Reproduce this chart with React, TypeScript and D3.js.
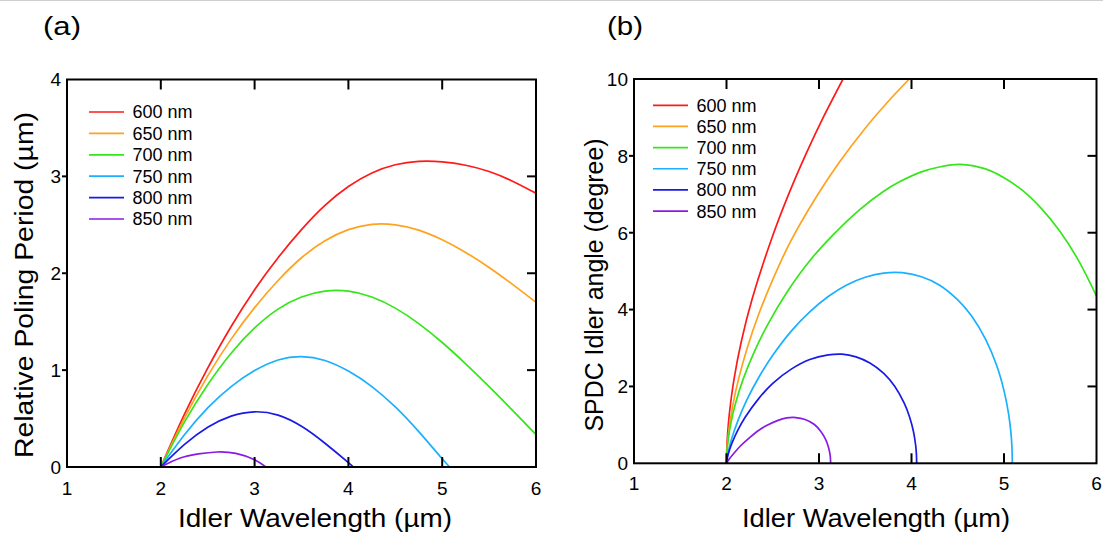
import React from "react";
import * as d3 from "d3";

// Pump wavelengths shown in both legends
const pumpLabels = ["600 nm", "650 nm", "700 nm", "750 nm", "800 nm", "850 nm"];
const lineColors = ["#ff1a1a", "#ffa31f", "#36e61a", "#1ab0ff", "#1a1ae6", "#8a1ae6"];

// (a) Relative poling period (µm) vs idler wavelength (µm)
const poling600: [number, number][] = [
  [2, 0], [2.25, 0.54], [2.5, 1.02], [2.75, 1.45], [3, 1.83], [3.25, 2.16], [3.5, 2.45],
  [3.75, 2.7], [4, 2.895], [4.25, 3.035], [4.5, 3.12], [4.75, 3.155], [5, 3.15], [5.25, 3.115],
  [5.5, 3.05], [5.75, 2.95], [6, 2.825],
];
const poling650: [number, number][] = [
  [2, 0], [2.25, 0.5], [2.5, 0.94], [2.75, 1.32], [3, 1.645], [3.25, 1.925], [3.5, 2.16],
  [3.75, 2.335], [4, 2.45], [4.25, 2.505], [4.5, 2.5], [4.75, 2.445], [5, 2.345], [5.25, 2.215],
  [5.5, 2.06], [5.75, 1.885], [6, 1.7],
];
const poling700: [number, number][] = [
  [2, 0], [2.25, 0.46], [2.5, 0.85], [2.75, 1.175], [3, 1.435], [3.25, 1.63], [3.5, 1.755],
  [3.75, 1.815], [4, 1.815], [4.25, 1.755], [4.5, 1.64], [4.75, 1.48], [5, 1.285],
  [5.25, 1.065], [5.5, 0.83], [5.75, 0.585], [6, 0.335],
];
const poling750: [number, number][] = [
  [2, 0], [2.25, 0.33], [2.5, 0.61], [2.75, 0.83], [3, 0.995], [3.25, 1.105], [3.5, 1.14],
  [3.75, 1.1], [4, 0.99], [4.25, 0.83], [4.5, 0.62], [4.75, 0.365], [5, 0.085], [5.08, 0],
];
const poling800: [number, number][] = [
  [2, 0], [2.25, 0.23], [2.5, 0.41], [2.75, 0.525], [3, 0.57], [3.25, 0.535], [3.5, 0.42],
  [3.75, 0.245], [4, 0.045], [4.05, 0],
];
const poling850: [number, number][] = [
  [2, 0], [2.2, 0.09], [2.4, 0.135], [2.6, 0.155], [2.8, 0.14], [3, 0.075], [3.12, 0],
];

// (b) SPDC idler emission angle (degree) vs idler wavelength (µm)
const angle600: [number, number][] = [
  [2, 0], [2.003, 0.36], [2.012, 0.77], [2.03, 1.27], [2.08, 2.17], [2.16, 3.17], [2.28, 4.3],
  [2.489, 5.85], [2.67, 6.99], [2.867, 8.09], [3.05, 9.02], [3.26, 10],
];
const angle650: [number, number][] = [
  [2, 0], [2.003, 0.25], [2.012, 0.55], [2.035, 1.02], [2.075, 1.59], [2.128, 2.17],
  [2.22, 2.97], [2.35, 3.89], [2.5, 4.78], [2.686, 5.74], [2.95, 6.85], [3.21, 7.8],
  [3.5, 8.72], [3.75, 9.42], [3.976, 10],
];
const angle700: [number, number][] = [
  [2, 0], [2.005, 0.3], [2.02, 0.65], [2.05, 1.08], [2.1, 1.58], [2.18, 2.19], [2.3, 2.9],
  [2.45, 3.63], [2.65, 4.44], [2.9, 5.27], [3.155, 5.95], [3.45, 6.62], [3.7, 7.08],
  [3.876, 7.33], [4.092, 7.57], [4.3, 7.71], [4.524, 7.78], [4.8, 7.66], [5, 7.43],
  [5.2, 7.1], [5.4, 6.64], [5.6, 6.05], [5.8, 5.3], [6, 4.35],
];
const angle750: [number, number][] = [
  [2, 0], [2.005, 0.11], [2.02, 0.31], [2.06, 0.67], [2.13, 1.15], [2.22, 1.65], [2.35, 2.24],
  [2.5, 2.81], [2.7, 3.44], [2.9, 3.94], [3.1, 4.34], [3.3, 4.64], [3.5, 4.84], [3.7, 4.95],
  [3.9, 4.96], [4.1, 4.86], [4.3, 4.64], [4.5, 4.25], [4.65, 3.83], [4.8, 3.23], [4.92, 2.55],
  [5, 1.89], [5.05, 1.28], [5.075, 0.79], [5.086, 0.41], [5.09, 0],
];
const angle800: [number, number][] = [
  [2, 0], [2.005, 0.09], [2.02, 0.25], [2.06, 0.53], [2.12, 0.85], [2.2, 1.19], [2.35, 1.69],
  [2.5, 2.08], [2.7, 2.45], [2.9, 2.7], [3.1, 2.82], [3.25, 2.84], [3.4, 2.77], [3.55, 2.61],
  [3.7, 2.34], [3.82, 2.0], [3.92, 1.57], [3.98, 1.2], [4.02, 0.84], [4.045, 0.47],
  [4.053, 0.24], [4.056, 0],
];
const angle850: [number, number][] = [
  [2, 0], [2.03, 0.11], [2.08, 0.26], [2.15, 0.45], [2.25, 0.67], [2.35, 0.86], [2.45, 1.0],
  [2.55, 1.11], [2.65, 1.18], [2.75, 1.19], [2.85, 1.14], [2.95, 1.01], [3.02, 0.83],
  [3.07, 0.63], [3.1, 0.44], [3.115, 0.29], [3.122, 0.18], [3.126, 0],
];

const polingSeries = [poling600, poling650, poling700, poling750, poling800, poling850];
const angleSeries = [angle600, angle650, angle700, angle750, angle800, angle850];

const xTicks = [1, 2, 3, 4, 5, 6];
const polingTicks = [0, 1, 2, 3, 4];
const angleTicks = [0, 2, 4, 6, 8, 10];

const FONT = "'Liberation Sans', Arial, Helvetica, sans-serif";

type PanelProps = {
  id: string;
  x0: number;
  x1: number;
  yBottom: number;
  yTop: number;
  yMax: number;
  yTicks: number[];
  series: [number, number][][];
  curve: d3.CurveFactory;
  letter: string;
  letterX: number;
  letterLen: number;
  yTitle: string;
  yTitleX: number;
  yTitleLen: number;
  xTitleX: number;
  xTitleLen: number;
  xTickBaseline: number;
  legendX: number;
  legendY: number;
  legendStep: number;
};

function Panel(p: PanelProps) {
  const x = d3.scaleLinear().domain([1, 6]).range([p.x0, p.x1]);
  const y = d3.scaleLinear().domain([0, p.yMax]).range([p.yBottom, p.yTop]);
  const line = d3
    .line<[number, number]>()
    .x((d) => x(d[0]))
    .y((d) => y(d[1]))
    .curve(p.curve);
  const innerX = xTicks.slice(1, -1);
  const innerY = p.yTicks.slice(1, -1);
  return (
    <g>
      <defs>
        <clipPath id={p.id}>
          <rect x={p.x0} y={p.yTop} width={p.x1 - p.x0} height={p.yBottom - p.yTop} />
        </clipPath>
      </defs>
      <g clipPath={`url(#${p.id})`}>
        {p.series.map((s, i) => (
          <path key={i} d={line(s) ?? ""} fill="none" stroke={lineColors[i]} strokeWidth={1.7} />
        ))}
      </g>
      <rect
        x={p.x0}
        y={p.yTop}
        width={p.x1 - p.x0}
        height={p.yBottom - p.yTop}
        fill="none"
        stroke="#000"
        strokeWidth={2}
      />
      {innerX.map((t) => (
        <g key={`xt${t}`} stroke="#000" strokeWidth={2}>
          <line x1={x(t)} x2={x(t)} y1={p.yBottom} y2={p.yBottom - 10} />
          <line x1={x(t)} x2={x(t)} y1={p.yTop} y2={p.yTop + 10} />
        </g>
      ))}
      {innerY.map((t) => (
        <g key={`yt${t}`} stroke="#000" strokeWidth={2}>
          <line x1={p.x0 - 5} x2={p.x0} y1={y(t)} y2={y(t)} />
          <line x1={p.x1} x2={p.x1 - 9} y1={y(t)} y2={y(t)} />
        </g>
      ))}
      {xTicks.map((t) => (
        <text key={`xl${t}`} x={x(t)} y={p.xTickBaseline} textAnchor="middle" fontSize={19}>
          {t}
        </text>
      ))}
      {p.yTicks.map((t) => (
        <text key={`yl${t}`} x={p.x0 - 6} y={y(t)} dy="0.36em" textAnchor="end" fontSize={19}>
          {t}
        </text>
      ))}
      {pumpLabels.map((lab, i) => {
        const ly = p.legendY + i * p.legendStep;
        return (
          <g key={lab}>
            <line
              x1={p.legendX}
              x2={p.legendX + 35}
              y1={ly}
              y2={ly}
              stroke={lineColors[i]}
              strokeWidth={1.7}
            />
            <text x={p.legendX + 43.5} y={ly} dy="0.36em" fontSize={18}>
              {lab}
            </text>
          </g>
        );
      })}
      <text x={p.letterX} y={35} fontSize={26} textLength={p.letterLen} lengthAdjust="spacingAndGlyphs">
        {p.letter}
      </text>
      <text
        x={p.xTitleX}
        y={527}
        textAnchor="middle"
        fontSize={25}
        textLength={p.xTitleLen}
        lengthAdjust="spacingAndGlyphs"
      >
        Idler Wavelength (µm)
      </text>
      <text
        transform={`translate(${p.yTitleX},285) rotate(-90)`}
        textAnchor="middle"
        fontSize={25}
        textLength={p.yTitleLen}
        lengthAdjust="spacingAndGlyphs"
      >
        {p.yTitle}
      </text>
    </g>
  );
}

export default function App() {
  return (
    <svg
      width={1103}
      height={533}
      style={{ position: "absolute", left: 0, top: 0, background: "#fff" }}
      fontFamily={FONT}
      fill="#000"
    >
      <rect x={0} y={0} width={1103} height={533} fill="#fff" />
      <line x1={0} x2={1103} y1={0.5} y2={0.5} stroke="#cfcfcf" strokeWidth={1} />
      <Panel
        id="clip-a"
        x0={67}
        x1={536}
        yBottom={467}
        yTop={79.5}
        yMax={4}
        yTicks={polingTicks}
        series={polingSeries}
        curve={d3.curveNatural}
        letter="(a)"
        letterX={43}
        letterLen={38}
        yTitle="Relative Poling Period (µm)"
        yTitleX={33}
        yTitleLen={346}
        xTitleX={315}
        xTitleLen={274}
        xTickBaseline={495}
        legendX={89}
        legendY={112}
        legendStep={21.4}
      />
      <Panel
        id="clip-b"
        x0={634}
        x1={1096.5}
        yBottom={463.3}
        yTop={79}
        yMax={10}
        yTicks={angleTicks}
        series={angleSeries}
        curve={d3.curveCatmullRom.alpha(0.5)}
        letter="(b)"
        letterX={607}
        letterLen={36}
        yTitle="SPDC Idler angle (degree)"
        yTitleX={602.5}
        yTitleLen={293}
        xTitleX={876}
        xTitleLen={268}
        xTickBaseline={490}
        legendX={653}
        legendY={105.3}
        legendStep={21.15}
      />
    </svg>
  );
}
